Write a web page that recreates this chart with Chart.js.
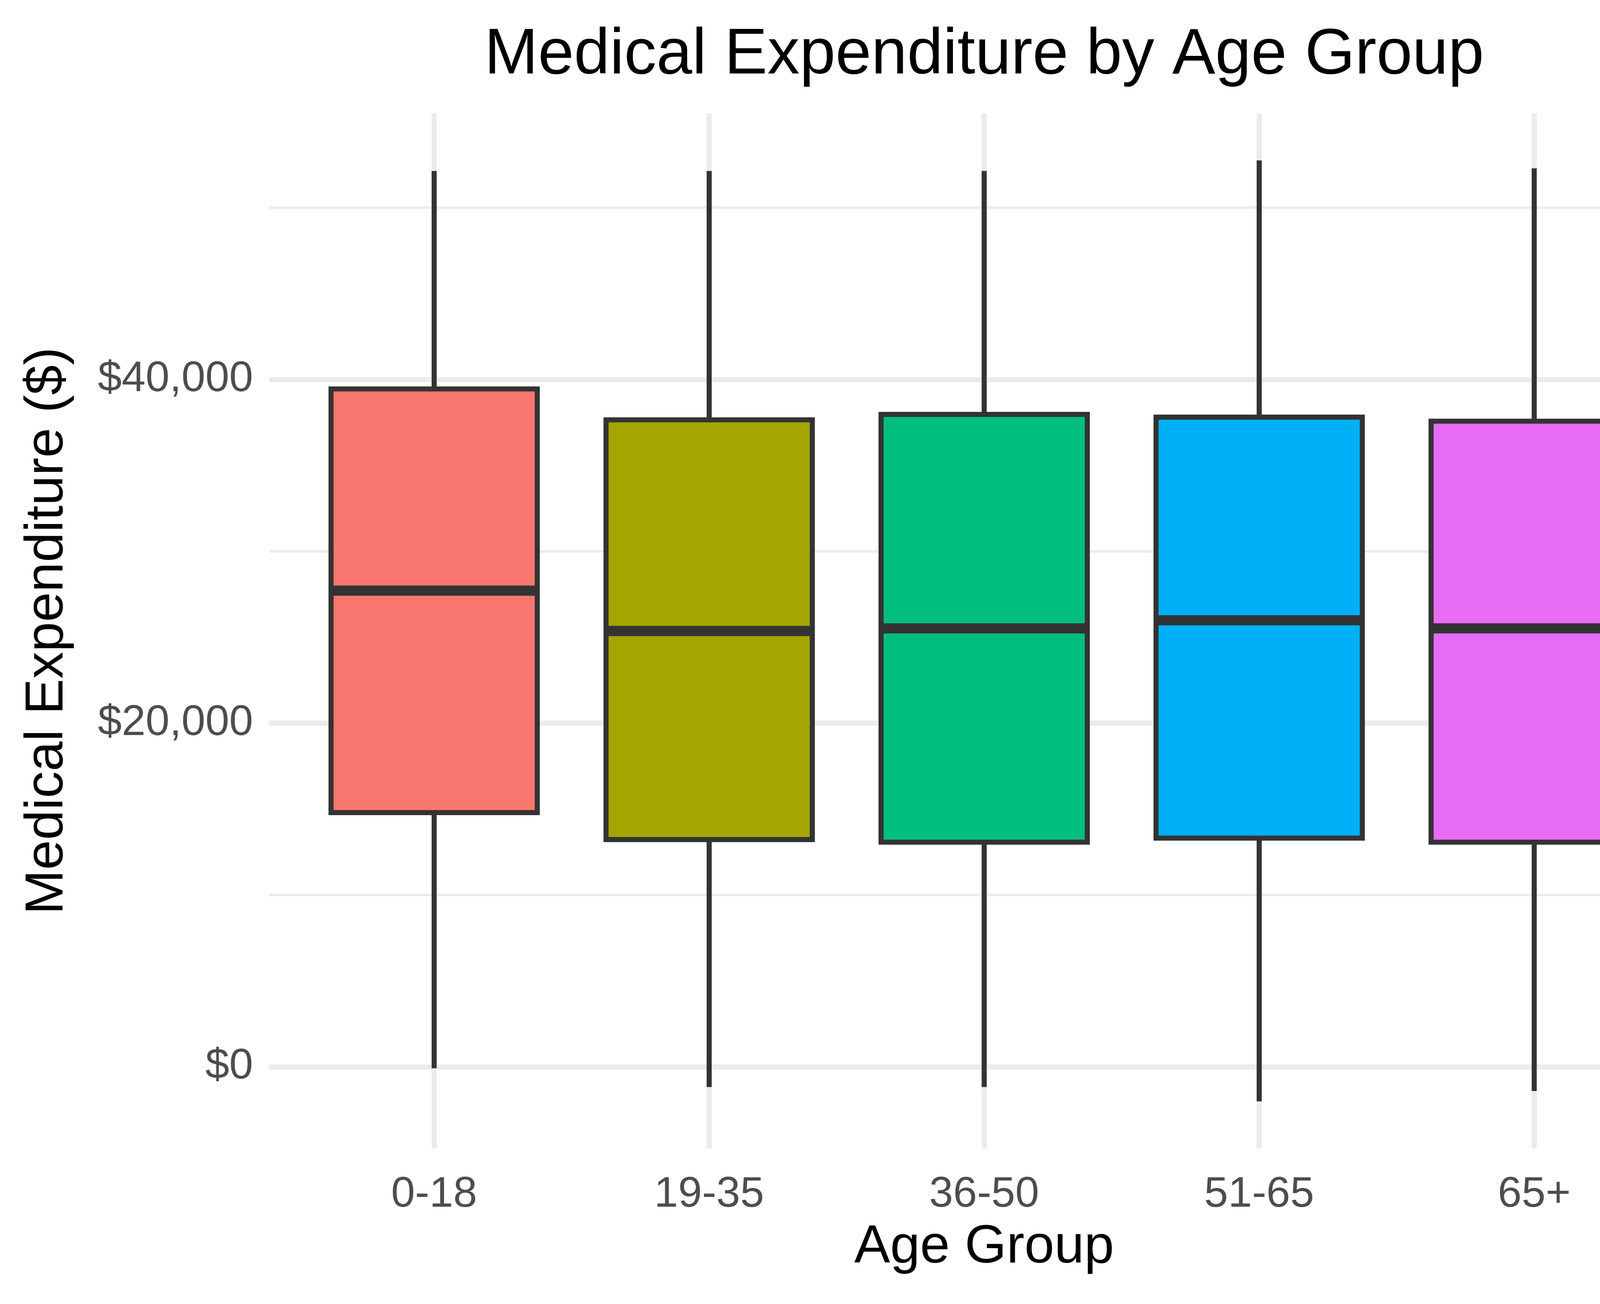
<!DOCTYPE html>
<html>
<head>
<meta charset="utf-8">
<title>Medical Expenditure by Age Group</title>
<script src="https://cdn.jsdelivr.net/npm/chart.js@4.4.1/dist/chart.umd.min.js"></script>
<style>
html, body { margin: 0; padding: 0; background: #ffffff; overflow: hidden; }
#myChart { display: block; width: 100vw; height: 100vh; }
</style>
</head>
<body>
<canvas id="myChart" width="5400" height="3337"></canvas>
<script>
// box plot summary per age group
var ageGroups = ['0-18', '19-35', '36-50', '51-65', '65+'];
var whiskerLow = [-80, -1174, -1174, -2011, -1409];
var q1 = [14795, 13229, 13072, 13307, 13072];
var median = [27710, 25362, 25519, 25988, 25519];
var q3 = [39452, 37652, 37965, 37808, 37573];
var whiskerHigh = [52133, 52133, 52133, 52750, 52290];
var groupColors = ['#F8766D', '#A3A500', '#00BF7D', '#00B0F6', '#E76BF3'];

// y grid: major (labelled) and minor lines
var yTicks = [0, 10000, 20000, 30000, 40000, 50000];
var yLabelled = [0, 20000, 40000];

var FONT = '"Liberation Sans", Arial, sans-serif';
var INK = '#333333';

// ggplot style 5% expansion of the data range
var lo = Math.min.apply(null, whiskerLow);
var hi = Math.max.apply(null, whiskerHigh);
var pad = (hi - lo) * 0.05;

function pts(a, b) {
    return ageGroups.map(function (g, i) { return { x: i + 1, y: [a[i], b[i]] }; });
}

var ggExtras = {
    id: 'ggExtras',
    afterDatasetsDraw: function (chart) {
        var ctx = chart.ctx;
        var meta = chart.getDatasetMeta(0);
        var ys = chart.scales.y;
        ctx.save();
        ctx.strokeStyle = INK;
        ctx.lineWidth = 26;
        ctx.lineCap = 'butt';
        meta.data.forEach(function (bar, i) {
            var half = bar.width / 2;
            var py = ys.getPixelForValue(median[i]);
            ctx.beginPath();
            ctx.moveTo(bar.x - half, py);
            ctx.lineTo(bar.x + half, py);
            ctx.stroke();
        });
        ctx.restore();
    },
    afterDraw: function (chart) {
        var ctx = chart.ctx;
        var ca = chart.chartArea;
        ctx.save();
        // title centred over the panel
        ctx.fillStyle = '#000000';
        ctx.font = '165px ' + FONT;
        ctx.textAlign = 'center';
        ctx.textBaseline = 'alphabetic';
        ctx.fillText('Medical Expenditure by Age Group', (ca.left + ca.right) / 2, 188);

        // legend
        ctx.textAlign = 'left';
        ctx.font = '137.5px ' + FONT;
        ctx.fillText('Age_Group', 4559, 1094);
        ctx.font = '110px ' + FONT;
        ageGroups.forEach(function (g, i) {
            var cy = 1282.5 + i * 216;
            var cx = 4664;
            ctx.fillStyle = INK;
            ctx.fillRect(cx - 6.5, cy - 85.5, 13, 171);
            ctx.fillStyle = groupColors[i];
            ctx.fillRect(cx - 81.5, cy - 54, 163, 108);
            ctx.strokeStyle = INK;
            ctx.lineWidth = 13;
            ctx.strokeRect(cx - 81.5, cy - 54, 163, 108);
            ctx.beginPath();
            ctx.moveTo(cx - 81.5, cy);
            ctx.lineTo(cx + 81.5, cy);
            ctx.stroke();
            ctx.fillStyle = '#000000';
            ctx.fillText(g, 4845, cy + 40.5);
        });
        ctx.restore();
    }
};

var ctx = document.getElementById('myChart').getContext('2d');

var myChart = new Chart(ctx, {
    type: 'bar',
    data: {
        datasets: [{
            label: 'box',
            data: pts(q1, q3),
            backgroundColor: groupColors,
            borderColor: INK,
            borderWidth: 13,
            borderSkipped: false,
            inflateAmount: 6.5,
            barPercentage: 0.75,
            categoryPercentage: 1
        }, {
            label: 'lower whisker',
            data: pts(whiskerLow, q1),
            backgroundColor: INK,
            borderWidth: 0,
            barThickness: 13,
            inflateAmount: 0
        }, {
            label: 'upper whisker',
            data: pts(q3, whiskerHigh),
            backgroundColor: INK,
            borderWidth: 0,
            barThickness: 13,
            inflateAmount: 0
        }]
    },
    options: {
        responsive: false,
        animation: false,
        devicePixelRatio: 1,
        datasets: { bar: { grouped: false } },
        layout: { padding: { top: 290, right: 1050, left: 0, bottom: 0 } },
        plugins: {
            legend: { display: false },
            title: { display: false },
            tooltip: { enabled: false }
        },
        scales: {
            x: {
                type: 'linear',
                min: 0.4,
                max: 5.6,
                offset: false,
                afterFit: function (s) { s.height = 398; },
                afterBuildTicks: function (s) {
                    s.ticks = ageGroups.map(function (g, i) { return { value: i + 1 }; });
                },
                border: { display: false },
                grid: {
                    color: '#EBEBEB',
                    lineWidth: 13,
                    offset: false,
                    drawTicks: false
                },
                ticks: {
                    autoSkip: false,
                    maxRotation: 0,
                    padding: 53,
                    color: '#4D4D4D',
                    font: { family: FONT, size: 110 },
                    callback: function (v) { return ageGroups[v - 1] || ''; }
                },
                title: {
                    display: true,
                    text: 'Age Group',
                    color: '#000000',
                    font: { family: FONT, size: 137.5, lineHeight: 1 },
                    padding: { top: 0, bottom: 75 }
                }
            },
            y: {
                min: lo - pad,
                max: hi + pad,
                afterFit: function (s) { s.width = 689; },
                afterBuildTicks: function (s) {
                    s.ticks = yTicks.map(function (v) { return { value: v }; });
                },
                border: { display: false },
                grid: {
                    color: '#EBEBEB',
                    drawTicks: false,
                    lineWidth: function (c) {
                        return (c.tick && yLabelled.indexOf(c.tick.value) >= 0) ? 13 : 6.5;
                    }
                },
                ticks: {
                    autoSkip: false,
                    padding: 41,
                    color: '#4D4D4D',
                    font: { family: FONT, size: 110 },
                    callback: function (v) {
                        return yLabelled.indexOf(v) >= 0 ? '$' + v.toLocaleString('en-US') : '';
                    }
                },
                title: {
                    display: true,
                    text: 'Medical Expenditure ($)',
                    color: '#000000',
                    font: { family: FONT, size: 137.5, lineHeight: 1 },
                    padding: { top: 53, bottom: 0 }
                }
            }
        }
    },
    plugins: [ggExtras]
});
</script>
</body>
</html>
